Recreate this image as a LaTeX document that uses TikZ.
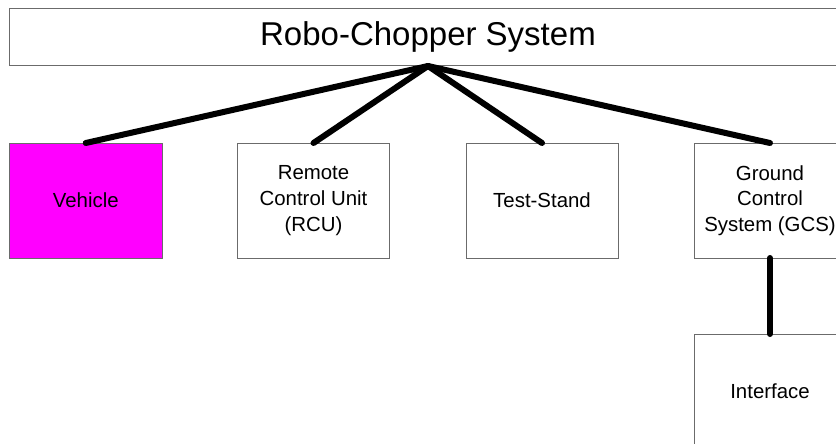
\documentclass[tikz,border=0pt]{standalone}
\usepackage{fontspec}
\setmainfont{Liberation Sans}
\definecolor{boxline}{rgb}{0.42,0.42,0.42}
\definecolor{vehfill}{rgb}{1,0,1}
\begin{document}
\begin{tikzpicture}[x=1pt,y=-1pt,
  blk/.style={draw=boxline,line width=1pt,fill=white,minimum width=152pt,minimum height=115pt,inner sep=0pt,outer sep=0pt,align=center,font=\fontsize{20.4}{25.6}\selectfont},
  conn/.style={line width=6pt,line cap=round,black}]
\useasboundingbox (0,0) rectangle (836,444);
\clip (0,0) rectangle (836,444);
\node[draw=boxline,line width=1pt,fill=white,minimum width=837pt,minimum height=57.5pt,inner sep=0pt,outer sep=0pt,font=\fontsize{33}{38}\selectfont] (top) at (428,37.25) {Robo-Chopper System};
\node[blk,fill=vehfill,minimum width=152.5pt] (veh) at (85.75,200.5) {Vehicle};
\node[blk] (rcu) at (313.5,200.5) {Remote\\Control Unit\\(RCU)};
\node[blk] (ts) at (542,200.5) {Test-Stand};
\node[blk] (gcs) at (770,200.5) {Ground\\Control\\System (GCS)};
\node[blk] (intf) at (770,391.5) {Interface};
\draw[conn] (top.south) -- (veh.north);
\draw[conn] (top.south) -- (rcu.north);
\draw[conn] (top.south) -- (ts.north);
\draw[conn] (top.south) -- (gcs.north);
\draw[conn] (gcs.south) -- (intf.north);
\end{tikzpicture}
\end{document}
